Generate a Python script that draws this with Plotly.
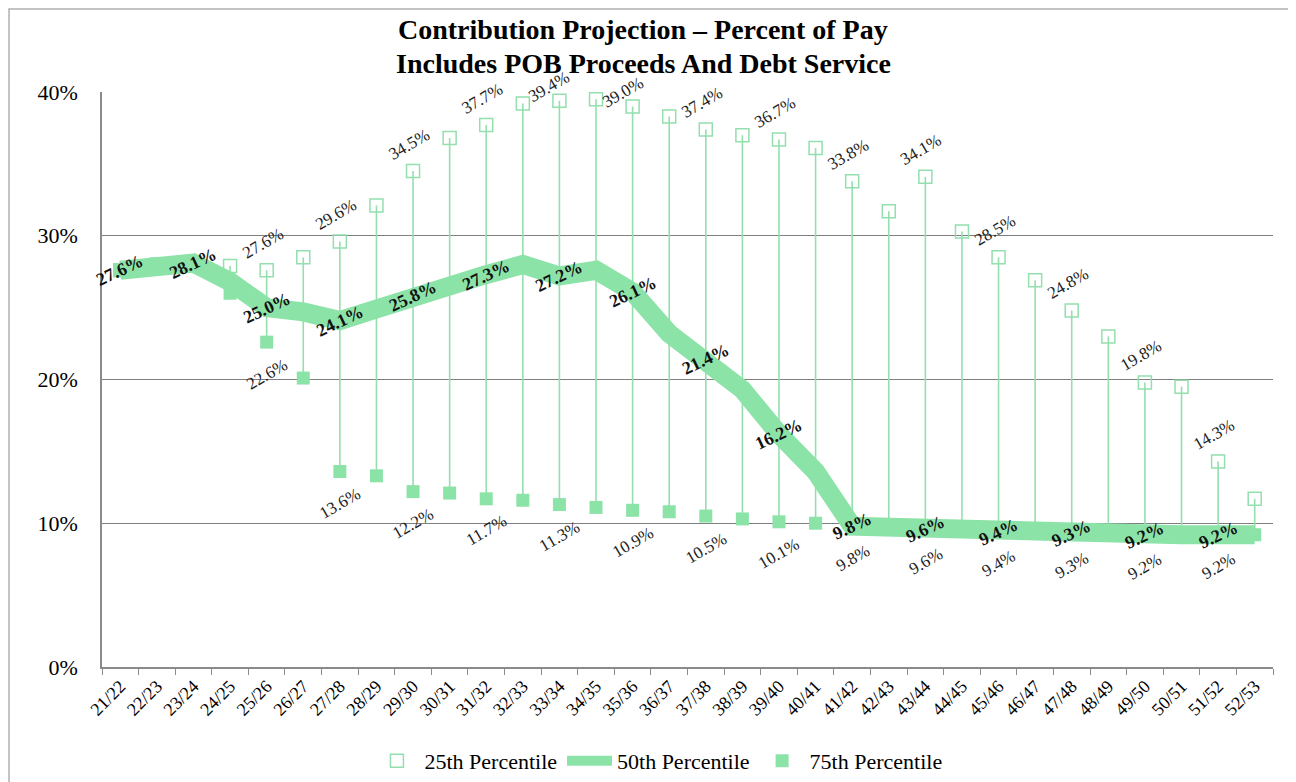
import plotly.graph_objects as go

categories = ["21/22", "22/23", "23/24", "24/25", "25/26", "26/27", "27/28", "28/29",
              "29/30", "30/31", "31/32", "32/33", "33/34", "34/35", "35/36", "36/37",
              "37/38", "38/39", "39/40", "40/41", "41/42", "42/43", "43/44", "44/45",
              "45/46", "46/47", "47/48", "48/49", "49/50", "50/51", "51/52", "52/53"]

p25 = [27.6, 28.0, 28.1, 27.9, 27.6, 28.5, 29.6, 32.1, 34.5, 36.8, 37.7, 39.2, 39.4, 39.5, 39.0, 38.3,
       37.4, 37.0, 36.7, 36.1, 33.8, 31.7, 34.1, 30.3, 28.5, 26.9, 24.8, 23.0, 19.8, 19.5, 14.3, 11.7]

p50 = [27.6, 28.0, 28.1, 26.8, 25.0, 24.7, 24.1, 24.9, 25.8, 26.6, 27.3, 28.0, 27.2, 27.6, 26.1, 23.2,
       21.4, 19.3, 16.2, 13.6, 9.8, 9.7, 9.6, 9.5, 9.4, 9.35, 9.3, 9.25, 9.2, 9.2, 9.2, 9.2]

p75 = [27.6, 28.0, 28.1, 26.0, 22.6, 20.1, 13.6, 13.3, 12.2, 12.1, 11.7, 11.6, 11.3, 11.1, 10.9, 10.8,
       10.5, 10.3, 10.1, 10.0, 9.8, 9.7, 9.6, 9.5, 9.4, 9.35, 9.3, 9.25, 9.2, 9.2, 9.2, 9.2]

label_idx_50 = list(range(0, 32, 2))
label_idx_band = list(range(4, 32, 2))

y_ticks = [0, 10, 20, 30, 40]

title_lines = ["Contribution Projection \u2013 Percent of Pay", "Includes POB Proceeds And Debt Service"]

SERIF = "Liberation Serif, Times New Roman, serif"
GREEN = "#8CE3A8"
GREEN_LINE = "#93DFAE"

fig = go.Figure()

# high-low lines between 25th and 75th percentile
hx, hy = [], []
for c, lo, hi in zip(categories, p75, p25):
    hx += [c, c, None]
    hy += [lo, hi, None]
fig.add_trace(go.Scatter(x=hx, y=hy, mode="lines", line=dict(color=GREEN_LINE, width=1.6),
                         showlegend=False, hoverinfo="skip"))

fig.add_trace(go.Scatter(x=categories, y=p25, mode="markers", name="25th Percentile",
                         marker=dict(symbol="square-open", size=13, color=GREEN_LINE,
                                     line=dict(width=1.5, color=GREEN_LINE)),
                         legendrank=1))
fig.add_trace(go.Scatter(x=categories, y=p75, mode="markers", name="75th Percentile",
                         marker=dict(symbol="square", size=13, color=GREEN),
                         legendrank=3))
fig.add_trace(go.Scatter(x=categories, y=p50, mode="lines", name="50th Percentile",
                         line=dict(color=GREEN, width=19, shape="linear"),
                         legendrank=2))

annotations = []
for i in label_idx_50:
    annotations.append(dict(x=categories[i], y=p50[i], text=f"<b>{p50[i]:.1f}%</b>", showarrow=False,
                            textangle=-25, font=dict(family=SERIF, size=18, color="#111111"),
                            xanchor="center", yanchor="middle"))
for i in label_idx_band:
    near_top = p25[i] > 38.5
    annotations.append(dict(x=categories[i], y=p25[i], text=f"{p25[i]:.1f}%", showarrow=False,
                            textangle=-30, font=dict(family=SERIF, size=17, color="#222222"),
                            xanchor="center", yanchor="middle",
                            yshift=14 if near_top else 27, xshift=-10 if near_top else -4))
    annotations.append(dict(x=categories[i], y=p75[i], text=f"{p75[i]:.1f}%", showarrow=False,
                            textangle=-30, font=dict(family=SERIF, size=17, color="#222222"),
                            xanchor="center", yanchor="middle", yshift=-32))

# title as two centered lines
title_y = [1.1095, 1.0504]
for line, ty in zip(title_lines, title_y):
    annotations.append(dict(x=0.462, y=ty, xref="paper", yref="paper", text=f"<b>{line}</b>",
                            showarrow=False, xanchor="center", yanchor="middle",
                            font=dict(family=SERIF, size=28, color="black")))

fig.update_layout(
    width=1288, height=774,
    margin=dict(l=94, r=23, t=84, b=115, autoexpand=False),
    paper_bgcolor="white", plot_bgcolor="white",
    font=dict(family=SERIF, color="black"),
    xaxis=dict(type="category", categoryorder="array", categoryarray=categories,
               range=[-0.5, len(categories) - 0.5],
               showgrid=False, showline=True, linecolor="#8a8a8a", linewidth=1.5,
               ticks="outside", tickson="boundaries", ticklen=6, tickcolor="#8a8a8a",
               tickangle=-45, tickfont=dict(family=SERIF, size=18, color="black")),
    yaxis=dict(range=[0, 40], tickvals=y_ticks, ticktext=[f"{v}%" for v in y_ticks],
               showgrid=True, gridcolor="#7f7f7f", gridwidth=1.3,
               showline=True, linecolor="#8a8a8a", linewidth=1.5, zeroline=False,
               ticks="", ticklabelstandoff=18,
               tickfont=dict(family=SERIF, size=22, color="black")),
    legend=dict(orientation="h", x=0.505, xanchor="center", xref="container",
                y=0.0, yanchor="bottom", yref="container",
                font=dict(family=SERIF, size=22, color="black"),
                itemwidth=45, tracegroupgap=0, bgcolor="rgba(0,0,0,0)"),
    annotations=annotations,
    shapes=[dict(type="rect", xref="paper", yref="paper",
                 x0=-0.0794, x1=1.0145, y0=-0.25, y1=1.1443,
                 line=dict(color="#b0b0b0", width=1.5), layer="below")],
    showlegend=True,
)

fig.write_html("out.html")
